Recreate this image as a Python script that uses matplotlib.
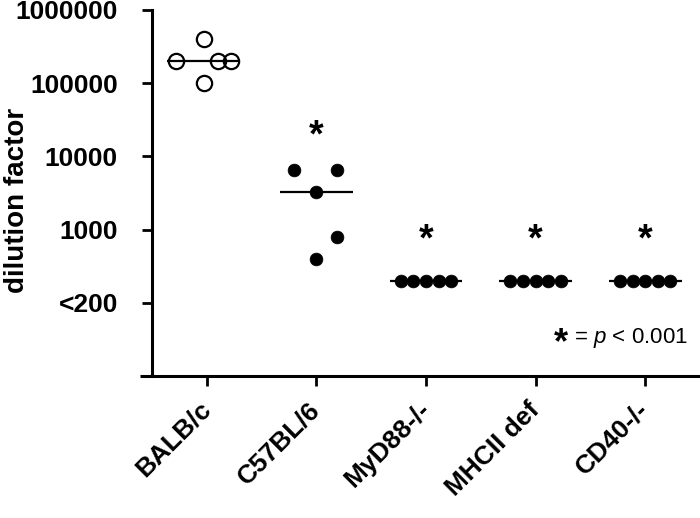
import matplotlib
matplotlib.use("Agg")
import matplotlib.pyplot as plt
import numpy as np

plt.rcParams['font.family'] = ['Liberation Sans', 'DejaVu Sans']
plt.rcParams['mathtext.fontset'] = 'custom'
plt.rcParams['mathtext.rm'] = 'Liberation Sans'
plt.rcParams['mathtext.it'] = 'Liberation Sans:italic'

# ---- data ----
groups = ["BALB/c", "C57BL/6", "MyD88-/-", "MHCII def", "CD40-/-"]
balb_c = [400000, 200000, 200000, 200000, 100000]
c57bl6 = [6500, 6500, 3300, 800, 400]
myd88 = [200, 200, 200, 200, 200]
mhcii = [200, 200, 200, 200, 200]
cd40 = [200, 200, 200, 200, 200]
series = [balb_c, c57bl6, myd88, mhcii, cd40]
filled = [False, True, True, True, True]
significant = [False, True, True, True, True]
star_y = [None, 24000, 930, 930, 930]

ytick_vals = [1000000, 100000, 10000, 1000, 100]
ytick_labels = ["1000000", "100000", "10000", "1000", "<200"]

# horizontal spread of points within each column (layout)
offsets = [
    [-0.03, -0.28, 0.10, 0.22, -0.03],
    [-0.20, 0.19, 0.0, 0.19, 0.0],
    [-0.23, -0.115, 0.0, 0.115, 0.23],
    [-0.23, -0.115, 0.0, 0.115, 0.23],
    [-0.23, -0.115, 0.0, 0.115, 0.23],
]

fig = plt.figure(figsize=(7.0, 5.18), dpi=100)
ax = fig.add_axes([152/700, 142/518, 548/700, 366/518])

for i, (vals, off) in enumerate(zip(series, offsets)):
    xs = i + np.array(off)
    med = np.median(vals)
    c = i - 0.03 if i == 0 else i
    ax.plot([c - 0.333, c + 0.333], [med, med], color='black', lw=1.6,
            zorder=2, solid_capstyle='butt')
    if filled[i]:
        ax.plot(xs, vals, 'o', ms=9.2, mfc='black', mec='black', mew=0.5,
                zorder=3, clip_on=False)
    else:
        ax.plot(xs, vals, 'o', ms=11, mfc='none', mec='black', mew=1.6,
                zorder=3, clip_on=False)
    if significant[i]:
        ax.annotate('*', xy=(i, star_y[i]), xytext=(0, -6), textcoords='offset points',
                    ha='center', va='center', fontsize=27, fontweight='bold')

ax.set_yscale('log')
ax.set_ylim(10, 1000000)
ax.set_xlim(-0.5, 4.5)
ax.set_yticks(ytick_vals)
ax.set_yticklabels(ytick_labels, fontsize=19, fontweight='bold')
ax.yaxis.set_minor_locator(matplotlib.ticker.NullLocator())
ax.set_xticks(range(len(groups)))
ax.set_xticklabels(groups, rotation=45, ha='right', va='center',
                   rotation_mode='anchor', fontsize=19, fontweight='bold')

for s in ['top', 'right', 'bottom']:
    ax.spines[s].set_visible(False)
ax.spines['left'].set_linewidth(2.2)
ax.plot([-0.022, 1.0], [0, 0], transform=ax.transAxes, color='black', lw=2.2,
        clip_on=False, solid_capstyle='butt')

ax.tick_params(axis='y', direction='out', length=7.5, width=2.0, pad=17)
ax.tick_params(axis='x', direction='out', length=7.5, width=2.0, pad=14)

ax.set_ylabel('dilution factor', fontsize=20, fontweight='bold')
ax.yaxis.set_label_coords(-0.222, 0.48)

t = ax.text(0.978, 0.104, ' = $p$ < 0.001', transform=ax.transAxes,
            ha='right', va='center', fontsize=16)
fig.canvas.draw()
bb = t.get_window_extent()
x0 = ax.transAxes.inverted().transform((bb.x0, bb.y0))[0]
ax.annotate('*', xy=(x0, 0.104), xycoords='axes fraction', xytext=(0, -4),
            textcoords='offset points', ha='right', va='center',
            fontsize=26, fontweight='bold')

fig.savefig('out.png', dpi=100)
